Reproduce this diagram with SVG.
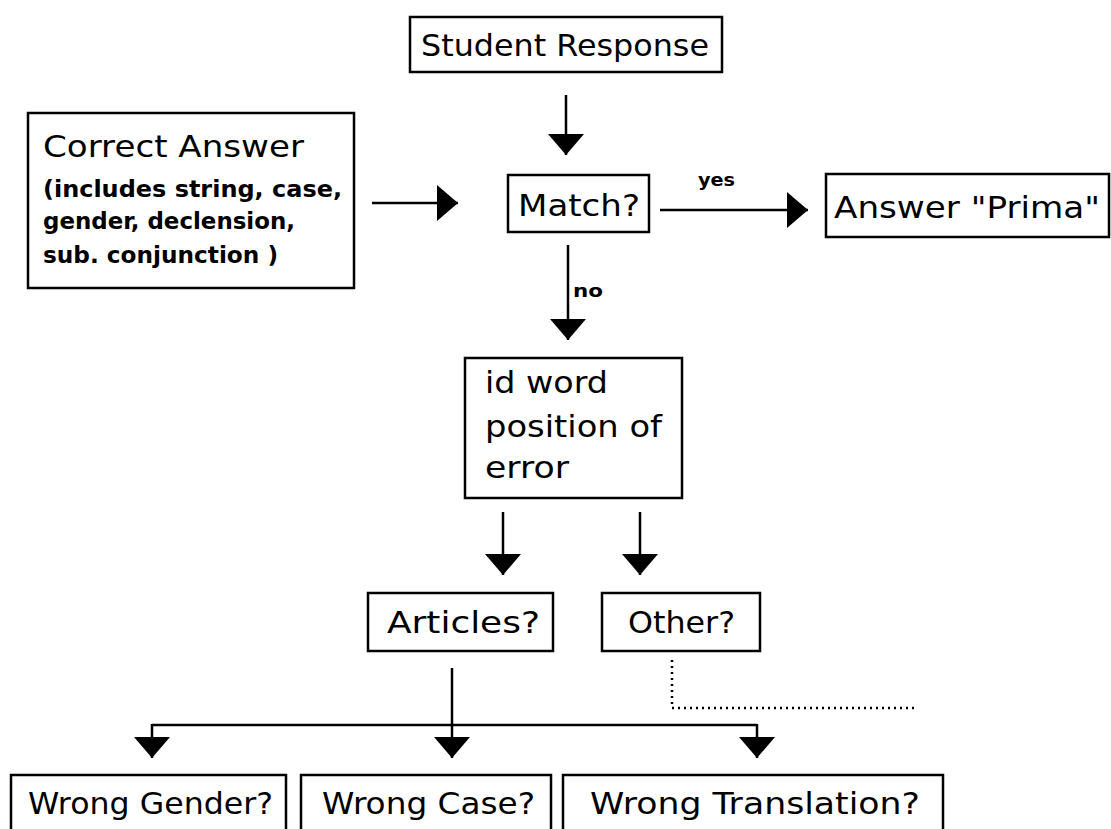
<svg xmlns="http://www.w3.org/2000/svg" width="1111" height="829" viewBox="0 0 1111 829">
<defs>
<style>
.box{fill:#fff;stroke:#000;stroke-width:2.5}
.t{font-family:"DejaVu Sans","Liberation Sans",sans-serif;font-size:30px;fill:#000}
.s{font-family:"DejaVu Sans Condensed","DejaVu Sans",sans-serif;font-size:23px;font-weight:bold;fill:#000}
.l{font-family:"DejaVu Sans Condensed","DejaVu Sans",sans-serif;font-size:18px;font-weight:bold;fill:#000}
.c{fill:none;stroke:#000;stroke-width:2.5}
.d{fill:none;stroke:#000;stroke-width:2.5;stroke-dasharray:2 4}
</style>
<marker id="ah" markerUnits="userSpaceOnUse" markerWidth="22" markerHeight="38" viewBox="0 0 22 38" refX="21" refY="19" orient="auto">
<path d="M0,1 L21,19 L0,37 z" fill="#000"/>
</marker>
</defs>
<rect width="1111" height="829" fill="#fff"/>
<g id="connectors">
<line class="c" x1="566" y1="95" x2="566" y2="155" marker-end="url(#ah)"/>
<line class="c" x1="372" y1="203" x2="458" y2="203" marker-end="url(#ah)"/>
<line class="c" x1="660" y1="210" x2="808" y2="210" marker-end="url(#ah)"/>
<line class="c" x1="568" y1="245" x2="568" y2="340" marker-end="url(#ah)"/>
<line class="c" x1="503" y1="512" x2="503" y2="575" marker-end="url(#ah)"/>
<line class="c" x1="640" y1="512" x2="640" y2="575" marker-end="url(#ah)"/>
<line class="c" x1="452" y1="668" x2="452" y2="725"/>
<line class="c" x1="152" y1="725" x2="757" y2="725"/>
<line class="c" x1="152" y1="724" x2="152" y2="758" marker-end="url(#ah)"/>
<line class="c" x1="452" y1="724" x2="452" y2="758" marker-end="url(#ah)"/>
<line class="c" x1="757" y1="724" x2="757" y2="758" marker-end="url(#ah)"/>
<polyline class="d" points="672,660 672,708 915,708"/>
<text class="l" x="698" y="186" textLength="37" lengthAdjust="spacingAndGlyphs">yes</text>
<text class="l" x="573" y="297" textLength="30" lengthAdjust="spacingAndGlyphs">no</text>
</g>
<g id="student">
<rect class="box" x="410" y="17" width="312" height="55"/>
<text class="t" x="421" y="56" textLength="288" lengthAdjust="spacingAndGlyphs">Student Response</text>
</g>
<g id="correct">
<rect class="box" x="28" y="113" width="326" height="175"/>
<text class="t" x="43" y="157" textLength="261" lengthAdjust="spacingAndGlyphs">Correct Answer</text>
<text class="s" x="43" y="197" textLength="299" lengthAdjust="spacingAndGlyphs">(includes string, case,</text>
<text class="s" x="43" y="229" textLength="252" lengthAdjust="spacingAndGlyphs">gender, declension,</text>
<text class="s" x="43" y="263" textLength="235" lengthAdjust="spacingAndGlyphs">sub. conjunction )</text>
</g>
<g id="match">
<rect class="box" x="508" y="175" width="141" height="57"/>
<text class="t" x="518" y="216" textLength="122" lengthAdjust="spacingAndGlyphs">Match?</text>
</g>
<g id="prima">
<rect class="box" x="826" y="174" width="283" height="63"/>
<text class="t" x="834" y="218" textLength="266" lengthAdjust="spacingAndGlyphs">Answer "Prima"</text>
</g>
<g id="idword">
<rect class="box" x="465" y="358" width="217" height="140"/>
<text class="t" x="485" y="393" textLength="123" lengthAdjust="spacingAndGlyphs">id word</text>
<text class="t" x="485" y="437" textLength="177" lengthAdjust="spacingAndGlyphs">position of</text>
<text class="t" x="485" y="478" textLength="84" lengthAdjust="spacingAndGlyphs">error</text>
</g>
<g id="articles">
<rect class="box" x="368" y="593" width="185" height="58"/>
<text class="t" x="387" y="633" textLength="153" lengthAdjust="spacingAndGlyphs">Articles?</text>
</g>
<g id="other">
<rect class="box" x="602" y="593" width="158" height="58"/>
<text class="t" x="628" y="633" textLength="107" lengthAdjust="spacingAndGlyphs">Other?</text>
</g>
<g id="gender">
<rect class="box" x="11" y="775" width="275" height="70"/>
<text class="t" x="28" y="814" textLength="245" lengthAdjust="spacingAndGlyphs">Wrong Gender?</text>
</g>
<g id="case">
<rect class="box" x="301" y="775" width="250" height="70"/>
<text class="t" x="322" y="814" textLength="213" lengthAdjust="spacingAndGlyphs">Wrong Case?</text>
</g>
<g id="translation">
<rect class="box" x="563" y="775" width="380" height="70"/>
<text class="t" x="590" y="814" textLength="330" lengthAdjust="spacingAndGlyphs">Wrong Translation?</text>
</g>
</svg>
